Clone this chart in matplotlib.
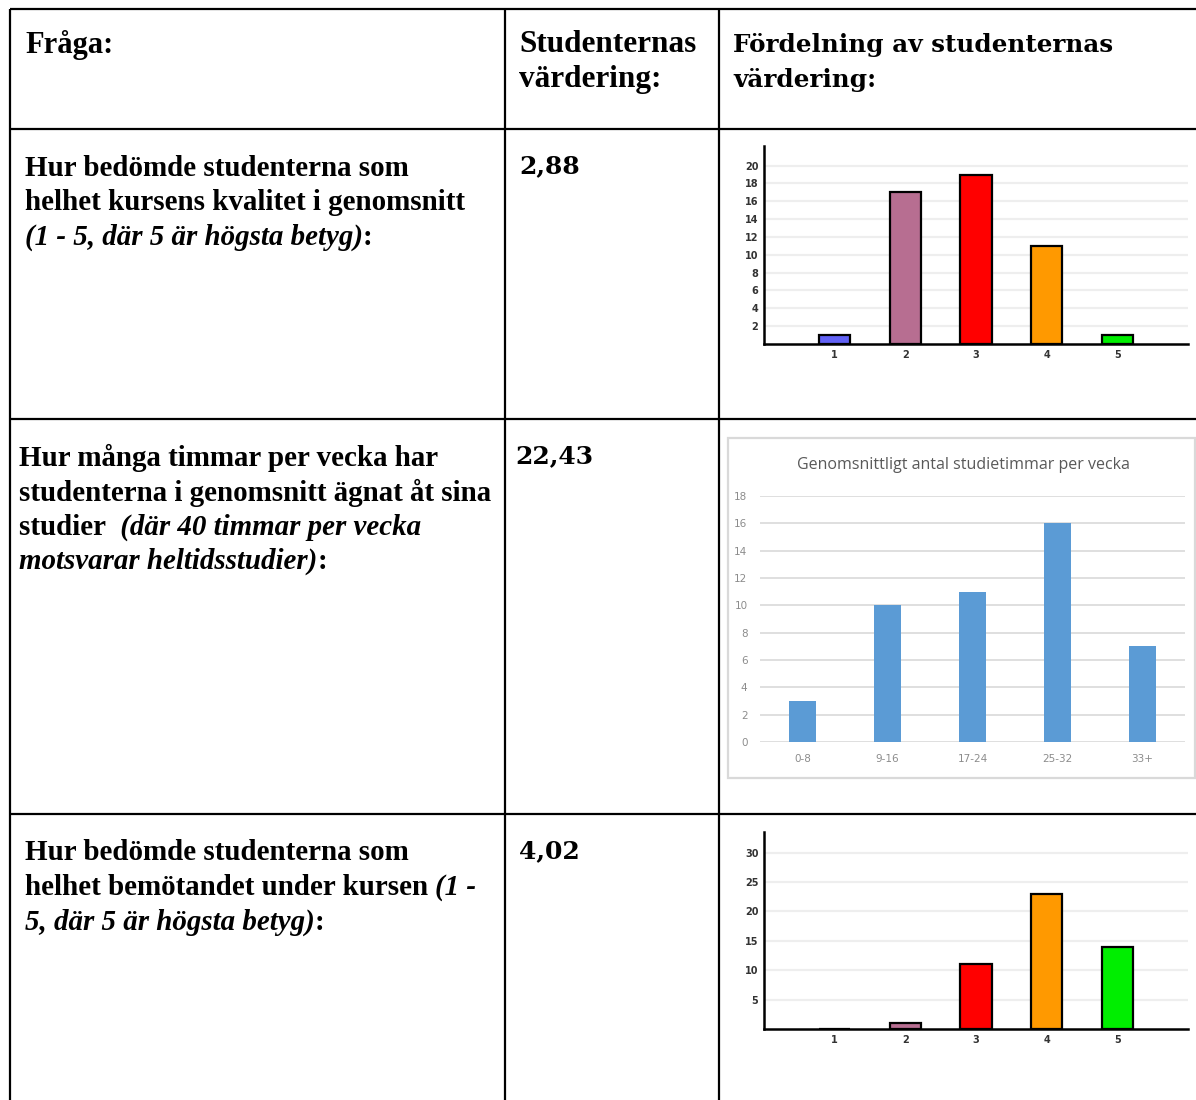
import matplotlib
matplotlib.use('Agg')
import matplotlib.pyplot as plt

# ── data ─────────────────────────────────────────────────────────────────────
W, H = 1196, 1100

header_cols = ['Fråga:', 'Studenternas\nvärdering:', 'Fördelning av studenternas\nvärdering:']
mean_values = ['2,88', '22,43', '4,02']

rating_cats = ['1', '2', '3', '4', '5']
rating_colors = ['#6262f5', '#b76e91', '#ff0000', '#ff9900', '#00ee00']
quality_counts = [1, 17, 19, 11, 1]
quality_ticks = [2, 4, 6, 8, 10, 12, 14, 16, 18, 20]
treatment_counts = [0, 1, 11, 23, 14]
treatment_ticks = [5, 10, 15, 20, 25, 30]

hour_cats = ['0-8', '9-16', '17-24', '25-32', '33+']
hour_counts = [3, 10, 11, 16, 7]
hour_ticks = [0, 2, 4, 6, 8, 10, 12, 14, 16, 18]
hour_title = 'Genomsnittligt antal studietimmar per vecka'

# question text: lines of (segment, italic?)
q1 = [[('Hur bedömde studenterna som', False)],
      [('helhet kursens kvalitet i genomsnitt', False)],
      [('(1 - 5, där 5 är högsta betyg)', True), (':', False)]]
q2 = [[('Hur många timmar per vecka har', False)],
      [('studenterna i genomsnitt ägnat åt sina', False)],
      [('studier ', False), (' (där 40 timmar per vecka', True)],
      [('motsvarar heltidsstudier)', True), (':', False)]]
q3 = [[('Hur bedömde studenterna som', False)],
      [('helhet bemötandet under kursen ', False), ('(1 -', True)],
      [('5, där 5 är högsta betyg)', True), (':', False)]]

# ── layout ───────────────────────────────────────────────────────────────────
SERIF = 'Liberation Serif'
FS = 20.9
LINE = 34.6

fig = plt.figure(figsize=(W / 100, H / 100), dpi=100)
bg = fig.add_axes([0, 0, 1, 1])
bg.set_xlim(0, W)
bg.set_ylim(H, 0)
bg.axis('off')


def px_axes(x0, y0, x1, y1):
    return fig.add_axes([x0 / W, 1 - y1 / H, (x1 - x0) / W, (y1 - y0) / H])


# table grid
lw = 1.6
for y in (9, 129, 419, 814):
    bg.plot([10, W], [y, y], color='black', lw=lw, solid_capstyle='butt')
for x in (10, 505, 719):
    bg.plot([x, x], [9, H], color='black', lw=lw, solid_capstyle='butt')

# header
bg.text(25, 45, header_cols[0], family=SERIF, weight='bold', fontsize=22, va='center')
for i, line in enumerate(header_cols[1].split('\n')):
    bg.text(519, 45 + i * LINE, line, family=SERIF, weight='bold', fontsize=22.5, va='center')
for i, line in enumerate(header_cols[2].split('\n')):
    bg.text(733, 45 + i * LINE, line, family='DejaVu Serif', weight='bold',
            fontsize=17.7, va='center')

renderer = fig.canvas.get_renderer()


def question(x, y, lines):
    for i, segs in enumerate(lines):
        cx = x
        for txt, ital in segs:
            t = bg.text(cx, y + i * LINE, txt, family=SERIF, weight='bold',
                        style='italic' if ital else 'normal', fontsize=FS, va='center')
            cx = t.get_window_extent(renderer=renderer).x1


question(25, 168, q1)
question(19, 458, q2)
question(25, 853, q3)

for (x, y), val in zip([(519, 166), (515, 456), (519, 851)], mean_values):
    bg.text(x, y, val, family='DejaVu Serif', weight='bold', fontsize=18, va='center')


# ── rating charts ────────────────────────────────────────────────────────────
def rating_chart(box, counts, ticks, ymax):
    ax = px_axes(*box)
    pos = list(range(1, len(rating_cats) + 1))
    ax.bar(pos, counts, width=0.44, color=rating_colors, edgecolor='black',
           linewidth=1.6, zorder=3)
    ax.set_xlim(0, 6)
    ax.set_ylim(0, ymax)
    ax.set_xticks(pos, rating_cats)
    ax.set_yticks(ticks)
    ax.yaxis.grid(True, color='#eeeeee', lw=1.6)
    ax.set_axisbelow(True)
    for s in ('top', 'right'):
        ax.spines[s].set_visible(False)
    for s in ('left', 'bottom'):
        ax.spines[s].set_linewidth(1.8)
    ax.tick_params(length=0, labelsize=7, pad=4, colors='#333333')
    for lab in ax.get_xticklabels() + ax.get_yticklabels():
        lab.set_fontweight('bold')
    ax.patch.set_alpha(0)
    return ax


rating_chart((764, 146, 1188, 344), quality_counts, quality_ticks, 22.2)
rating_chart((764, 832, 1188, 1029), treatment_counts, treatment_ticks, 33.5)

# ── hours chart (framed) ─────────────────────────────────────────────────────
bg.add_patch(plt.Rectangle((728, 438), 467, 340, fill=False, ec='#d9d9d9', lw=1.6))
bg.text(963, 465, hour_title, family='Open Sans', fontsize=11.5, color='#595959',
        ha='center', va='center')

ax2 = px_axes(760, 496, 1185, 742)
ax2.bar(range(len(hour_cats)), hour_counts, width=0.31, color='#5b9bd5', zorder=3)
ax2.set_xlim(-0.5, len(hour_cats) - 0.5)
ax2.set_ylim(0, 18)
ax2.set_yticks(hour_ticks)
ax2.set_xticks(range(len(hour_cats)), hour_cats)
ax2.yaxis.grid(True, color='#d9d9d9', lw=1.2)
ax2.set_axisbelow(True)
for s in ('top', 'right', 'left', 'bottom'):
    ax2.spines[s].set_visible(False)
ax2.tick_params(length=0, labelsize=7.5, colors='#8c8c8c', pad=9)
ax2.patch.set_alpha(0)

fig.savefig('out.png', dpi=100, facecolor='white')
